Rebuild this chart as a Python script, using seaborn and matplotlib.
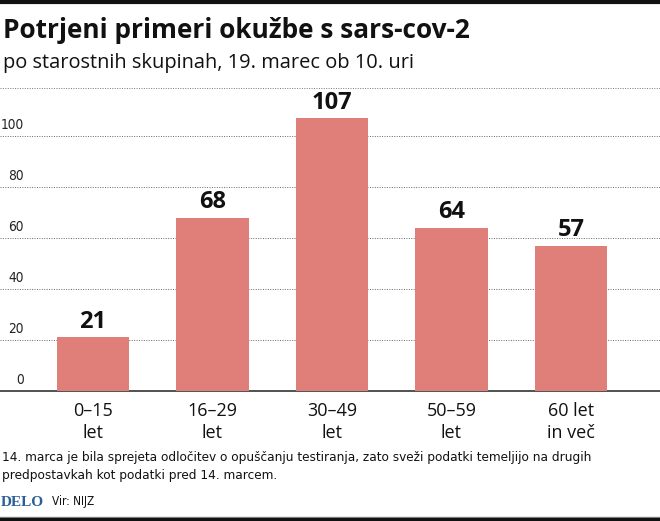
import matplotlib
matplotlib.use("Agg")
import matplotlib.pyplot as plt
import matplotlib.transforms as mtransforms
from matplotlib.lines import Line2D
import seaborn as sns
import pandas as pd

# Data
groups = ["0–15\nlet", "16–29\nlet", "30–49\nlet", "50–59\nlet", "60 let\nin več"]
cases = [21, 68, 107, 64, 57]
y_ticks = [0, 20, 40, 60, 80, 100]

title = "Potrjeni primeri okužbe s sars-cov-2"
subtitle = "po starostnih skupinah, 19. marec ob 10. uri"
note = ("14. marca je bila sprejeta odločitev o opuščanju testiranja, zato sveži podatki temeljijo na drugih\n"
        "predpostavkah kot podatki pred 14. marcem.")
source = "Vir: NIJZ"

sns.set_theme(style="white")
plt.rcParams["font.family"] = ["Open Sans", "DejaVu Sans"]

narrow = dict(family=["DejaVu Sans"], fontstretch="condensed")

W, H = 660, 521
fig = plt.figure(figsize=(W / 100, H / 100), dpi=100)
fig.patch.set_facecolor("white")

# plot area: baseline at y=391 px, top at y=88 px
ax = fig.add_axes([0, (H - 391) / H, 1, (391 - 88) / H])
df = pd.DataFrame({"group": groups, "cases": cases})
sns.barplot(data=df, x="group", y="cases", color="#e07f79", saturation=1,
            width=0.61, ax=ax, zorder=3)
for p in ax.patches:
    p.set_edgecolor("none")

ax.set_xlim(-0.778, 4.745)
ax.set_ylim(0, 118.8)
ax.set_xlabel("")
ax.set_ylabel("")
ax.set_yticks([])
ax.set_xticks([])
for s in ["top", "right", "left"]:
    ax.spines[s].set_visible(False)
ax.spines["bottom"].set_color("#333333")
ax.spines["bottom"].set_linewidth(1.2)
ax.set_facecolor("none")

# dotted gridlines with labels sitting above them
trans = mtransforms.blended_transform_factory(ax.transAxes, ax.transData)
for t in y_ticks[1:]:
    ax.axhline(t, color="#666666", lw=0.7, ls=(0, (1, 1.5)), zorder=1)
for t in y_ticks:
    ax.text(24 / W, t + 1.5, str(t), transform=trans, ha="right", va="bottom",
            fontsize=9.8, color="#222222", **narrow)

# value labels
for i, v in enumerate(cases):
    ax.text(i, v + 1.3, str(v), ha="center", va="bottom", fontsize=17,
            fontweight="bold", color="#111111")

# category labels
for i, g in enumerate(groups):
    ax.text(i, -4.5, g, ha="center", va="top", fontsize=13, color="#111111",
            linespacing=1.25, transform=ax.transData, clip_on=False)

# titles
fig.text(3 / W, 1 - 31 / H, title, fontsize=18.9, fontweight="bold",
         va="center", ha="left", color="#111111")
fig.text(3 / W, 1 - 63 / H, subtitle, fontsize=14.4, va="center", ha="left",
         color="#111111")

# frame lines
fig.add_artist(Line2D([0, 1], [1 - 1.5 / H, 1 - 1.5 / H], color="#111111", lw=3))
fig.add_artist(Line2D([0, 1], [1 - 88 / H, 1 - 88 / H], color="#777777", lw=0.7,
                      ls=(0, (1, 1.5))))
fig.add_artist(Line2D([0, 1], [1 - 516.5 / H, 1 - 516.5 / H], color="#888888", lw=1))
fig.add_artist(Line2D([0, 1], [1 - 519.5 / H, 1 - 519.5 / H], color="#111111", lw=3))

# footnote and source
fig.text(2 / W, 1 - 466 / H, note, fontsize=9.7, va="center",
         ha="left", color="#111111", linespacing=1.5, **narrow)
fig.text(1 / W, 1 - 502 / H, "DELO", fontsize=11, fontweight="bold",
         family=["Liberation Serif", "DejaVu Serif"], color="#2a5f95",
         va="center", ha="left")
fig.text(52 / W, 1 - 502 / H, source, fontsize=8.5, va="center",
         ha="left", color="#111111", **narrow)

fig.savefig("out.png", dpi=100, facecolor="white")
